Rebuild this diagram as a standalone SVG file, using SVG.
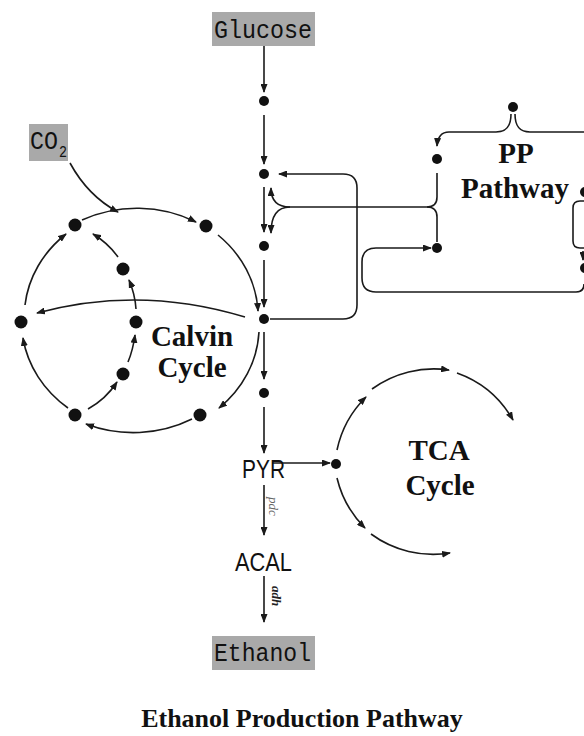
<svg xmlns="http://www.w3.org/2000/svg" width="584" height="736" viewBox="0 0 584 736">
<defs>
<marker id="ah" markerUnits="userSpaceOnUse" markerWidth="9" markerHeight="7" refX="8" refY="3.5" orient="auto">
<path d="M0,0 L9,3.5 L0,7 z" fill="#1a1a1a"/>
</marker>
<style>
.c{fill:none;stroke:#1a1a1a;stroke-width:1.6}
.a{marker-end:url(#ah)}
.d{fill:#111}
.box{fill:#a9a9a9}
.mono{font-family:"Liberation Mono","DejaVu Sans Mono",monospace;fill:#111}
.sans{font-family:"Liberation Sans",Arial,sans-serif;fill:#111}
.lbl{font-family:"Liberation Serif","Times New Roman",serif;font-weight:bold;font-size:29px;fill:#111;text-anchor:middle}
</style>
</defs>
<rect width="584" height="736" fill="#fff"/>

<g id="connectors">
<!-- main column -->
<path class="c a" d="M264,46 V92"/>
<path class="c a" d="M264,115 V164"/>
<path class="c a" d="M264,187 V232"/>
<path class="c a" d="M264,260 V307"/>
<path class="c a" d="M264,332 V379"/>
<path class="c a" d="M264,407 V453"/>
<path class="c a" d="M264,485 V535"/>
<path class="c a" d="M264,576 V622"/>
<!-- loop from calvin exit back to second dot -->
<path class="c a" d="M270,319 H343 Q357,319 357,305 V188 Q357,174 343,174 H279"/>
<!-- PP branch -->
<path class="c" d="M437,173 V197 Q437,207 427,207 H290"/>
<path class="c" d="M427,207 Q437,207 437,217 V242"/>
<path class="c a" d="M290,207 C278,207 271,201 271,188"/>
<path class="c a" d="M290,207 C278,207 271,214 271,233"/>
<!-- PP brace -->
<path class="c a" d="M511,114 C511,127 506,132 496,132 H449 Q438,132 437,146"/>
<path class="c" d="M515,114 C515,127 520,132 530,132 H584"/>
<!-- lower loop into PP dot -->
<path class="c a" d="M584,284 Q584,292 576,292 H376 Q362,292 362,278 V262 Q362,248 376,248 H431"/>
<!-- right edge bracket -->
<path class="c" d="M584,201 H580 Q573,201 573,208 V241 Q573,248 580,248 H584"/>
<path class="c a" d="M583,251 V260"/>
<!-- CO2 in -->
<path class="c a" d="M70,163 Q88,196 118,212"/>
<!-- Calvin outer arcs -->
<path class="c a" d="M82,220 A122 110 0 0 1 196,222"/>
<path class="c a" d="M218,235 A122 110 0 0 1 258,311"/>
<path class="c a" d="M259,332 A122 110 0 0 1 219,408"/>
<path class="c a" d="M192,419 A122 110 0 0 1 86,424"/>
<path class="c a" d="M68,408 A122 110 0 0 1 23,338"/>
<path class="c a" d="M25,305 A122 110 0 0 1 66,234"/>
<!-- Calvin inner chain -->
<path class="c a" d="M88,409 Q106,399 117,382"/>
<path class="c a" d="M128,362 Q133,350 135,335"/>
<path class="c a" d="M136,309 Q135,294 129,280"/>
<path class="c a" d="M118,257 Q108,243 93,234"/>
<!-- long arc -->
<path class="c a" d="M245,317 Q140,285 37,313"/>
<!-- PYR to TCA -->
<path class="c a" d="M272,463 H330"/>
<!-- TCA arcs -->
<path class="c a" d="M337,450 A105 105 0 0 1 366,397"/>
<path class="c a" d="M372,389 A105 105 0 0 1 449,370"/>
<path class="c a" d="M457,373 A105 105 0 0 1 513,420"/>
<path class="c a" d="M337,478 A105 105 0 0 0 365,528"/>
<path class="c a" d="M371,534 A105 105 0 0 0 450,553"/>
</g>

<g id="glucose">
<rect class="box" x="212" y="12" width="103" height="34"/>
<text class="mono" x="214" y="38" font-size="26" textLength="98" lengthAdjust="spacingAndGlyphs">Glucose</text>
</g>
<g id="co2">
<rect class="box" x="29" y="124" width="39" height="37"/>
<text class="mono" x="30" y="149" font-size="25" textLength="28" lengthAdjust="spacingAndGlyphs">CO</text>
<text class="mono" x="59" y="157" font-size="16" textLength="8" lengthAdjust="spacingAndGlyphs">2</text>
</g>
<g id="main-dots">
<circle class="d" cx="264" cy="101" r="5"/>
<circle class="d" cx="264" cy="174" r="5"/>
<circle class="d" cx="264" cy="246" r="5"/>
<circle class="d" cx="264" cy="319" r="5"/>
<circle class="d" cx="264" cy="393" r="5"/>
</g>
<g id="pp-pathway">
<circle class="d" cx="513" cy="107" r="5"/>
<circle class="d" cx="437" cy="159" r="5"/>
<circle class="d" cx="437" cy="248" r="5"/>
<circle class="d" cx="585" cy="192" r="5"/>
<circle class="d" cx="585" cy="268" r="5"/>
<text class="lbl" x="516" y="163">PP</text>
<text class="lbl" x="515" y="198">Pathway</text>
</g>
<g id="calvin-cycle">
<circle class="d" cx="75" cy="225" r="6.5"/>
<circle class="d" cx="206" cy="226" r="6.5"/>
<circle class="d" cx="21" cy="322" r="6.5"/>
<circle class="d" cx="123" cy="269" r="6.5"/>
<circle class="d" cx="136" cy="322" r="6.5"/>
<circle class="d" cx="123" cy="374" r="6.5"/>
<circle class="d" cx="75" cy="415" r="6.5"/>
<circle class="d" cx="200" cy="415" r="6.5"/>
<text class="lbl" x="192" y="346">Calvin</text>
<text class="lbl" x="192" y="377">Cycle</text>
</g>
<g id="pyr">
<text class="sans" x="242" y="478" font-size="26" textLength="43" lengthAdjust="spacingAndGlyphs">PYR</text>
</g>
<g id="tca-cycle">
<circle class="d" cx="336" cy="464" r="5"/>
<text class="lbl" x="439" y="460">TCA</text>
<text class="lbl" x="440" y="495">Cycle</text>
</g>
<g id="pdc-label">
<text transform="translate(269,497) rotate(90)" font-family="'Liberation Serif','Times New Roman',serif" font-style="italic" font-size="13" fill="#666">pdc</text>
</g>
<g id="acal">
<text class="sans" x="235" y="571" font-size="26" textLength="57" lengthAdjust="spacingAndGlyphs">ACAL</text>
</g>
<g id="adh-label">
<text transform="translate(272,586) rotate(90)" font-family="'Liberation Serif','Times New Roman',serif" font-style="italic" font-weight="bold" font-size="13" fill="#222">adh</text>
</g>
<g id="ethanol">
<rect class="box" x="212" y="636" width="103" height="34"/>
<text class="mono" x="214" y="661" font-size="26" textLength="97" lengthAdjust="spacingAndGlyphs">Ethanol</text>
</g>
<g id="title">
<text font-family="'Liberation Serif','Times New Roman',serif" font-weight="bold" font-size="26" fill="#111" text-anchor="middle" x="302" y="727">Ethanol Production Pathway</text>
</g>
</svg>
